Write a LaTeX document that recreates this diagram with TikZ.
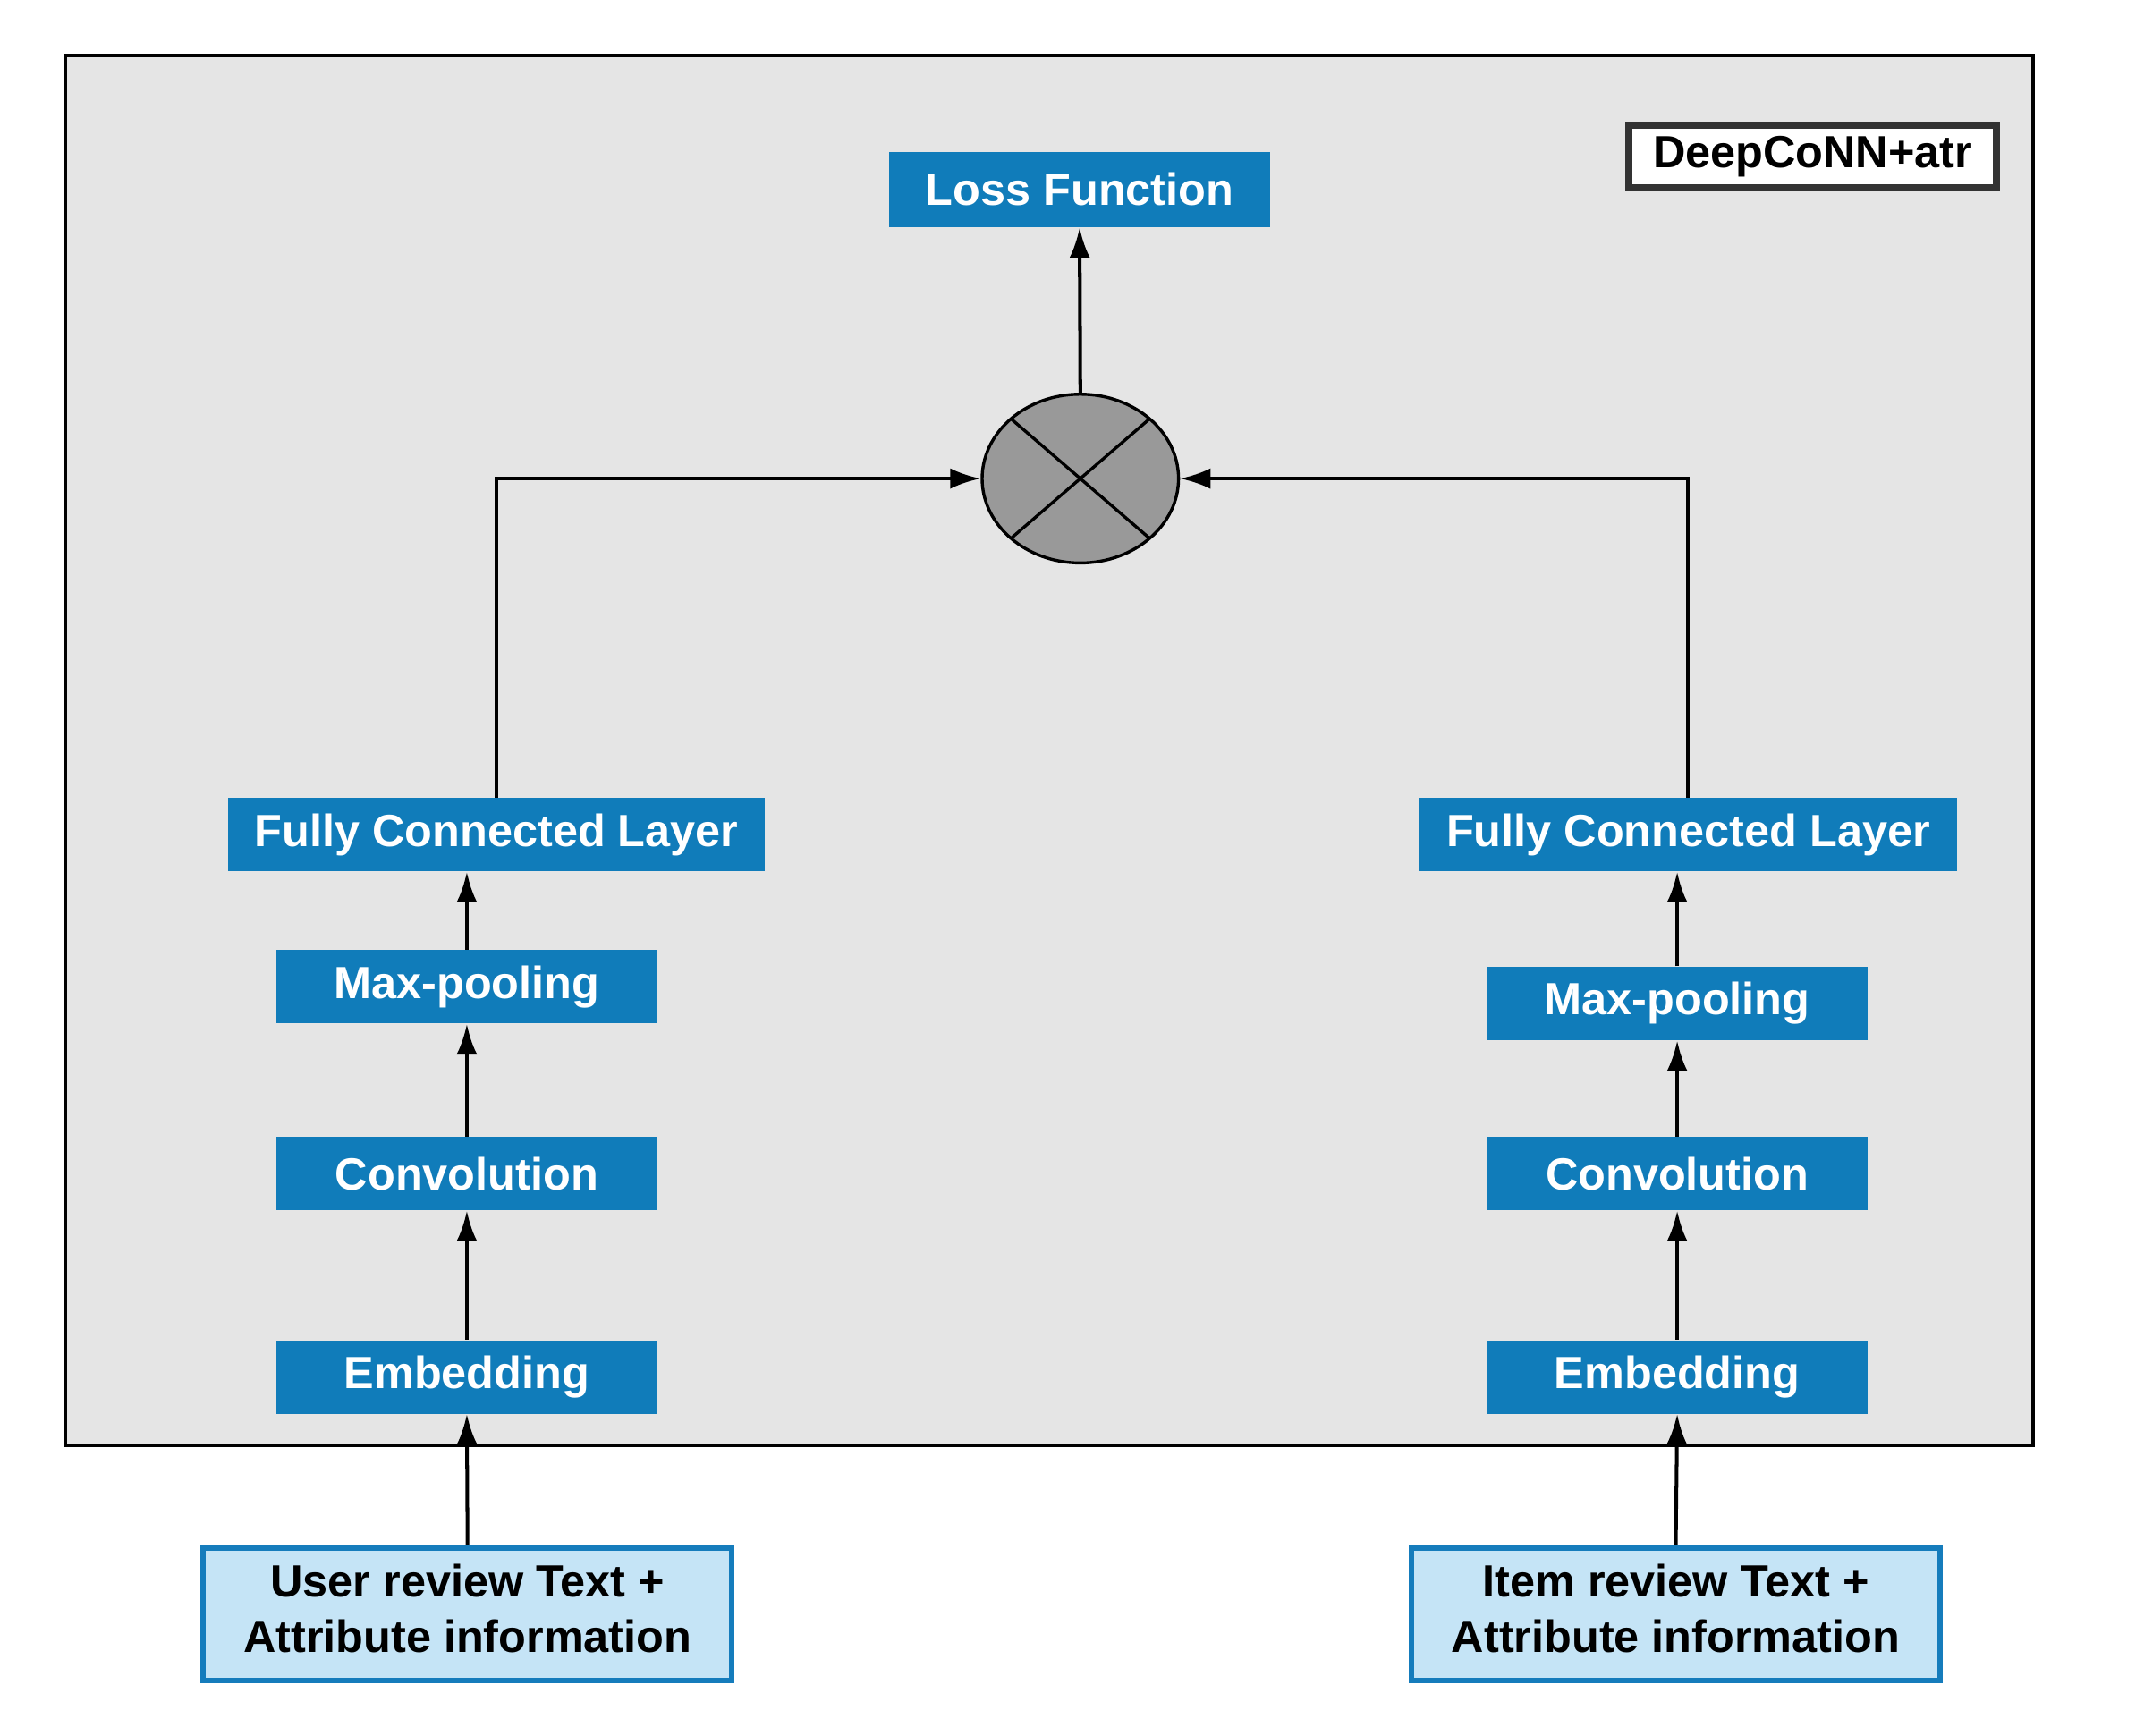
\documentclass[tikz,border=0pt]{standalone}
\usepackage{fontspec}
\setmainfont{Liberation Sans}
\usetikzlibrary{arrows.meta,shapes.geometric,calc}
\definecolor{boxblue}{RGB}{16,124,186}
\definecolor{inblue}{RGB}{197,228,246}
\definecolor{inborder}{RGB}{21,124,188}
\definecolor{bggray}{RGB}{229,229,229}
\definecolor{elgray}{RGB}{153,153,153}
\definecolor{tagborder}{RGB}{51,51,51}
\begin{document}
\begin{tikzpicture}[x=0.5pt,y=-0.5pt,
  layerbox/.style={rectangle, fill=boxblue, text=white, inner sep=0pt,
    minimum height=26.5pt, font=\fontsize{16.3}{20}\selectfont\bfseries},
  inbox/.style={rectangle, fill=inblue, draw=inborder, line width=2pt, inner sep=0pt,
    minimum width=191pt, minimum height=48pt, align=center, text depth=4pt,
    font=\fontsize{16.3}{20}\selectfont\bfseries},
  flow/.style={line width=1.3pt, -{Latex[length=11pt,width=7.5pt]}},
]
\useasboundingbox (0,0) rectangle (1550,1254.5);
% outer frame
\draw[fill=bggray, line width=1.3pt] (47,40) rectangle (1470,1045);
% tag
\node[rectangle, fill=white, draw=tagborder, line width=2.5pt, inner sep=0pt,
  minimum width=133pt, minimum height=22.5pt,
  font=\fontsize{16.3}{20}\selectfont\bfseries] (tag) at (1310.5,113) {DeepCoNN+atr};
% top
\node[layerbox, minimum width=137.5pt, minimum height=27pt] (loss) at (780.5,137) {Loss Function};
\node[ellipse, fill=elgray, draw=black, line width=1.1pt, inner sep=0pt,
  minimum width=71pt, minimum height=61pt] (mul) at (781,346) {};
\draw[line width=1.1pt] ($(mul.center)+(-50.2,-43.3)$) -- ($(mul.center)+(50.2,43.3)$);
\draw[line width=1.1pt] ($(mul.center)+(50.2,-43.3)$) -- ($(mul.center)+(-50.2,43.3)$);
% left column
\node[layerbox, minimum width=194pt] (lfc) at (359,603.5) {Fully Connected Layer};
\node[layerbox, minimum width=137.5pt] (lmax) at (337.5,713.5) {Max-pooling};
\node[layerbox, minimum width=137.5pt] (lconv) at (337.5,848.5) {Convolution};
\node[layerbox, minimum width=137.5pt] (lemb) at (337.5,995.5) {Embedding};
\node[inbox] (lin) at (338,1167) {User review Text +\\Attribute information};
% right column
\node[layerbox, minimum width=194.5pt] (rfc) at (1220.5,603.5) {Fully Connected Layer};
\node[layerbox, minimum width=137.5pt] (rmax) at (1212.5,725.5) {Max-pooling};
\node[layerbox, minimum width=137.5pt] (rconv) at (1212.5,848.5) {Convolution};
\node[layerbox, minimum width=137.5pt] (remb) at (1212.5,995.5) {Embedding};
\node[inbox] (rin) at (1211.5,1167) {Item review Text +\\Attribute information};
% connectors
\draw[flow] (lin.north) -- (lemb.south);
\draw[flow] (lemb.north) -- (lconv.south);
\draw[flow] (lconv.north) -- (lmax.south);
\draw[flow] (lmax.north) -- (lmax.north |- lfc.south);
\draw[flow] (lfc.north) |- (mul.west);
\draw[flow] (rin.north) -- (remb.south);
\draw[flow] (remb.north) -- (rconv.south);
\draw[flow] (rconv.north) -- (rmax.south);
\draw[flow] (rmax.north) -- (rmax.north |- rfc.south);
\draw[flow] (rfc.north) |- (mul.east);
\draw[flow] (mul.north) -- (loss.south);
\end{tikzpicture}
\end{document}
